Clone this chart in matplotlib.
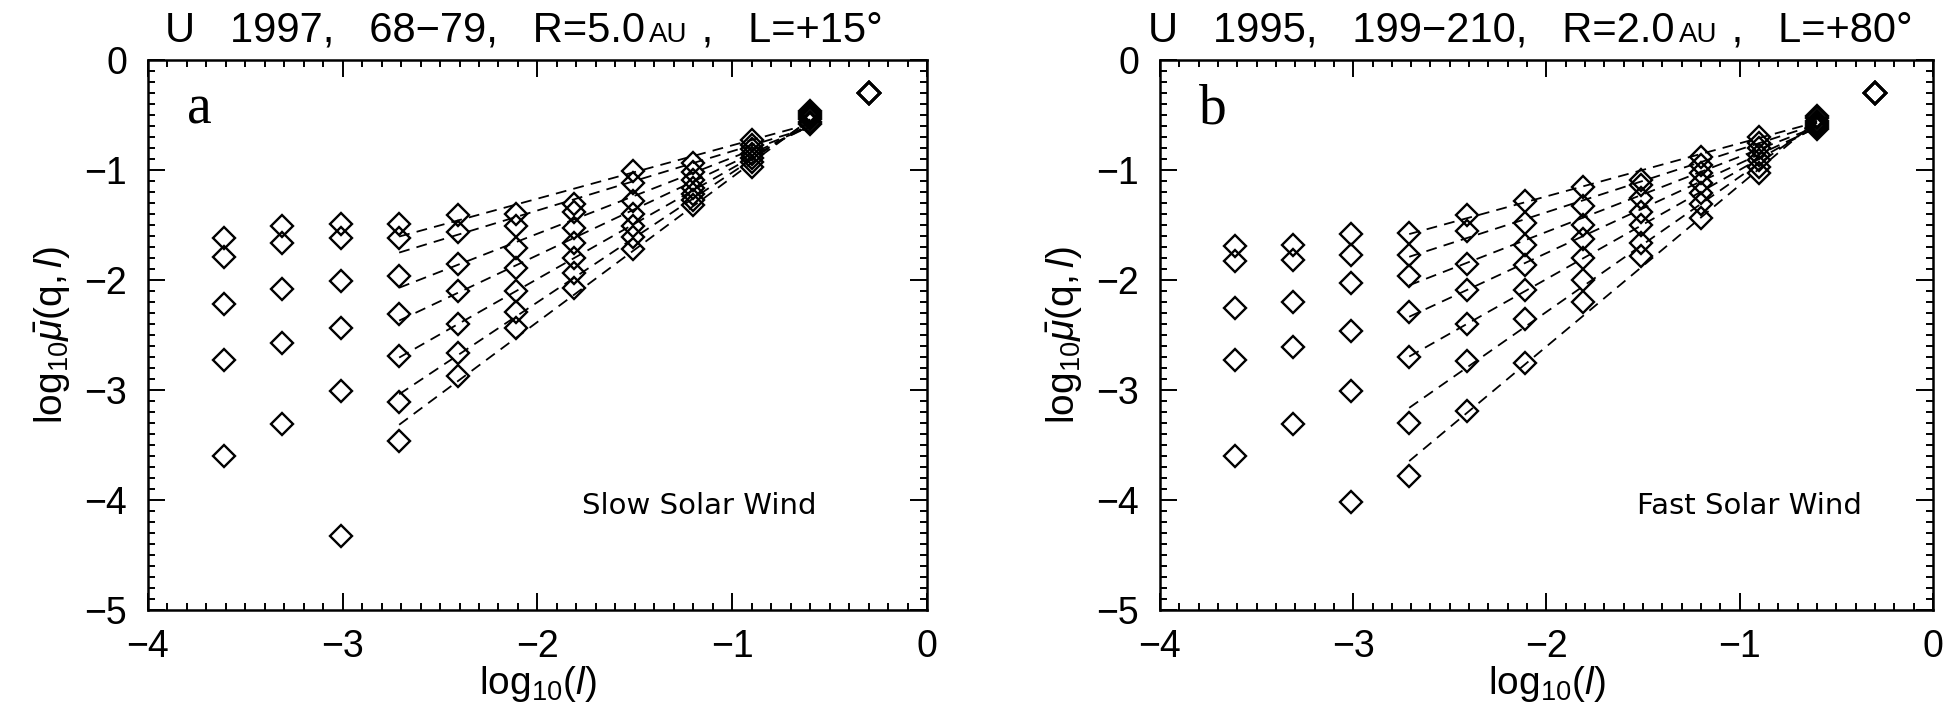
import numpy as np
import matplotlib.pyplot as plt
from matplotlib.ticker import MultipleLocator

plt.rcParams['font.family'] = ['Liberation Sans', 'DejaVu Sans']
plt.rcParams['mathtext.fontset'] = 'custom'
plt.rcParams['mathtext.rm'] = 'Liberation Sans'
plt.rcParams['mathtext.it'] = 'Liberation Sans:italic'

# log10 of the scale l (l = 2^-k)
log_l = [-3.61, -3.31, -3.01, -2.71, -2.41, -2.11, -1.81, -1.51, -1.20, -0.90, -0.60, -0.30]
nan = np.nan

# slow wind, one row per moment order q (columns follow log_l)
mu_slow = [
    [-1.62, -1.51, -1.49, -1.49, -1.41, -1.40, -1.31, -1.01, -0.94, -0.73, -0.46, -0.30],
    [-1.79, -1.66, -1.62, -1.62, -1.56, -1.51, -1.38, -1.12, -1.02, -0.77, -0.48, -0.30],
    [-2.22, -2.08, -2.01, -1.96, -1.85, -1.71, -1.53, -1.28, -1.09, -0.81, -0.50, -0.30],
    [-2.73, -2.57, -2.44, -2.31, -2.10, -1.89, -1.66, -1.40, -1.16, -0.85, -0.52, -0.30],
    [-3.60, -3.31, -3.01, -2.69, -2.40, -2.10, -1.80, -1.51, -1.22, -0.89, -0.54, -0.30],
    [nan, nan, -4.33, -3.11, -2.66, -2.29, -1.94, -1.61, -1.27, -0.93, -0.56, -0.30],
    [nan, nan, nan, -3.46, -2.87, -2.44, -2.07, -1.72, -1.32, -0.97, -0.58, -0.30],
]

# fast wind
mu_fast = [
    [-1.69, -1.68, -1.58, -1.57, -1.41, -1.28, -1.15, -1.09, -0.88, -0.70, -0.51, -0.30],
    [-1.83, -1.82, -1.77, -1.77, -1.55, -1.48, -1.33, -1.14, -0.95, -0.75, -0.53, -0.30],
    [-2.25, -2.20, -2.03, -1.96, -1.85, -1.68, -1.50, -1.25, -1.03, -0.80, -0.55, -0.30],
    [-2.73, -2.61, -2.46, -2.29, -2.09, -1.86, -1.63, -1.38, -1.12, -0.86, -0.57, -0.30],
    [-3.60, -3.31, -3.01, -2.70, -2.40, -2.09, -1.80, -1.50, -1.21, -0.91, -0.59, -0.30],
    [nan, nan, -4.02, -3.30, -2.74, -2.35, -2.00, -1.66, -1.31, -0.97, -0.61, -0.30],
    [nan, nan, nan, -3.78, -3.19, -2.75, -2.20, -1.78, -1.44, -1.03, -0.63, -0.30],
]

# columns used for the linear fits (log_l = -2.71 ... -0.60)
fit_cols = slice(3, 11)

panels = [
    dict(mu=mu_slow, letter='a', wind='Slow Solar Wind',
         head='U   1997,   68\u221279,   R=5.0', tail=' ,   L=+15\u00b0',
         rect=[0.0755, 0.1384, 0.3977, 0.7768], tx=0.022, wx=-1.77),
    dict(mu=mu_fast, letter='b', wind='Fast Solar Wind',
         head='U   1995,   199\u2212210,   R=2.0', tail=' ,   L=+80\u00b0',
         rect=[0.5921, 0.1384, 0.3946, 0.7768], tx=-0.015, wx=-1.53),
]

fig = plt.figure(figsize=(19.59, 7.08), dpi=100)

for p in panels:
    ax = fig.add_axes(p['rect'])
    x = np.array(log_l)
    for row in p['mu']:
        y = np.array(row)
        ax.plot(x, y, linestyle='none', marker='D', markersize=11,
                markerfacecolor='none', markeredgecolor='black', markeredgewidth=1.7)
        xs = x[fit_cols]
        slope, icpt = np.polyfit(xs, y[fit_cols], 1)
        ax.plot([xs[0], xs[-1]], [slope * xs[0] + icpt, slope * xs[-1] + icpt],
                color='black', lw=1.3, linestyle=(0, (6, 4)))

    ax.set_xlim(-4, 0)
    ax.set_ylim(-5, 0)
    ax.xaxis.set_major_locator(MultipleLocator(1))
    ax.xaxis.set_minor_locator(MultipleLocator(0.1))
    ax.yaxis.set_major_locator(MultipleLocator(1))
    ax.yaxis.set_minor_locator(MultipleLocator(0.1))
    ax.tick_params(which='both', direction='in', top=True, right=True, width=1.4)
    ax.tick_params(which='major', length=12)
    ax.tick_params(which='minor', length=5)
    ax.tick_params(axis='x', which='major', labelsize=27, pad=14)
    ax.tick_params(axis='y', which='major', labelsize=27, pad=15)
    for s in ax.spines.values():
        s.set_linewidth(1.8)

    ax.set_xlabel(r'$\mathrm{log_{10}}(l)$', fontsize=28, labelpad=-1)
    ax.set_ylabel(r'$\mathrm{log_{10}}\bar{\mu}(\mathrm{q},l)$', fontsize=28, labelpad=8)

    ax.text(-3.80, -0.58, p['letter'], family=['Liberation Serif'], fontsize=40)
    ax.text(p['wx'], -4.05, p['wind'], family=['DejaVu Sans'], fontsize=21, va='center')

    # title in pieces so that "AU" can be set smaller
    t1 = ax.text(p['tx'], 1.033, p['head'], transform=ax.transAxes,
                 ha='left', va='baseline', fontsize=30)
    t2 = ax.annotate('AU', xy=(1, 0), xycoords=t1, xytext=(3, 2),
                     textcoords='offset points', ha='left', va='bottom', fontsize=20)
    ax.annotate(p['tail'], xy=(1, 0), xycoords=t2, xytext=(2, -2),
                textcoords='offset points', ha='left', va='bottom', fontsize=30)

fig.savefig('out.png', dpi=100)
